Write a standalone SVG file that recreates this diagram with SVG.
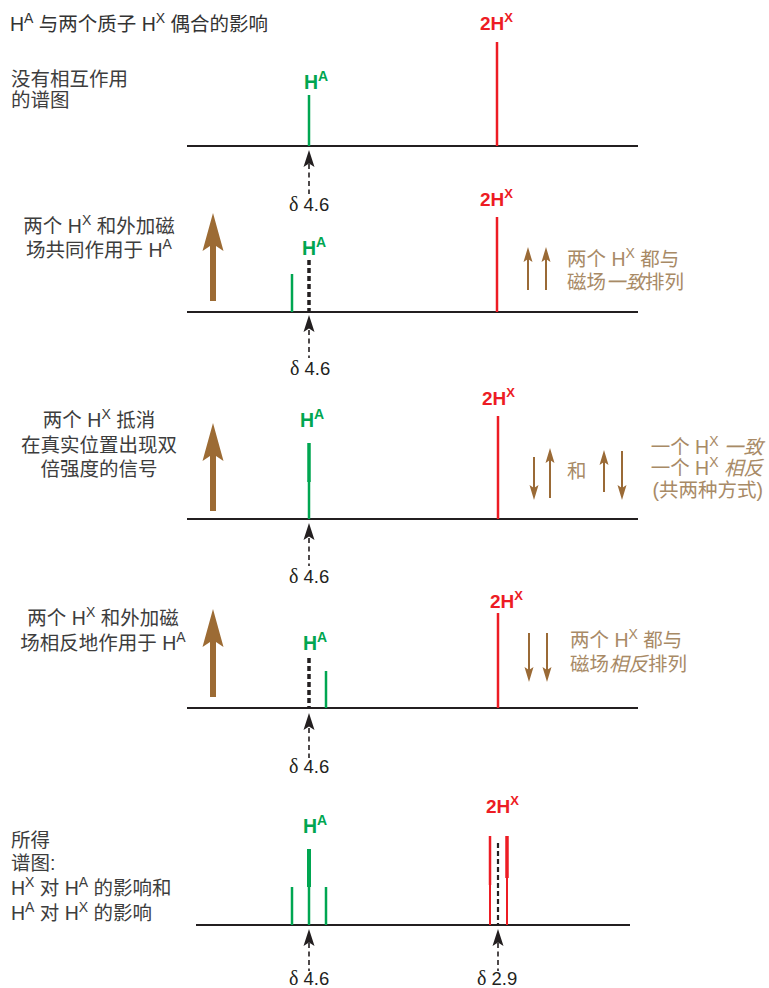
<svg xmlns="http://www.w3.org/2000/svg" width="769" height="988" viewBox="0 0 769 988">
<style>
text{font-family:"Liberation Sans","Noto Sans CJK SC",sans-serif}
.lbl{font-size:19.5px;fill:#3d3d3d}
.br{font-size:19.5px;fill:#a88a66}
.it{font-style:italic}
.ha{font-size:19.5px;font-weight:bold;fill:#00a651}
.hx{font-size:19px;font-weight:bold;fill:#ed1c24}
.d{font-size:18.5px;fill:#231f20}
.dl{font-family:"Liberation Serif",serif;font-size:20px}
.base{stroke:#231f20;stroke-width:2;fill:none}
.g{stroke:#00a651;stroke-width:2.5;fill:none}
.gt{stroke:#00a651;stroke-width:4;fill:none}
.r{stroke:#ed1c24;stroke-width:2.5;fill:none}
.rt{stroke:#ed1c24;stroke-width:3.5;fill:none}
.dk{stroke:#231f20;stroke-width:3.5;stroke-dasharray:5 3;fill:none}
.ds{stroke:#231f20;stroke-width:1.6;stroke-dasharray:5 3.5;fill:none}
.ah{fill:#231f20}
.big{fill:#9c6b34}
.sm{stroke:#9a6a36;stroke-width:2;fill:none}
.smh{fill:#9a6a36}
</style>
<defs>
<polygon id="tipUp" class="ah" points="0,0 5.5,17 0,13.5 -5.5,17"/>
<polygon id="bigUp" class="big" points="0,0 10.5,38 3,33 3,88 -3,88 -3,33 -10.5,38"/>
<polygon id="smUp" class="smh" points="0,0 4.5,15 0,12 -4.5,15"/>
<polygon id="smDn" class="smh" points="0,0 4.5,-15 0,-12 -4.5,-15"/>
</defs>

<g id="title">
<text class="lbl" x="10" y="31" style="fill:#333">H<tspan font-size="14" dy="-8">A</tspan><tspan dy="8"> 与两个质子 H</tspan><tspan font-size="14" dy="-8">X</tspan><tspan dy="8"> 偶合的影响</tspan></text>
</g>

<!-- Panel 1 -->
<g id="panel1">
<g id="p1-label"><text class="lbl" x="11" y="86">没有相互作用</text><text class="lbl" x="11" y="107">的谱图</text></g>
<g id="p1-baseline"><line class="base" x1="187" y1="146" x2="638" y2="146"/></g>
<g id="p1-HA"><text class="ha" x="304" y="89">H<tspan font-size="14" dy="-8">A</tspan></text><line class="g" x1="309" y1="95" x2="309" y2="146"/></g>
<g id="p1-HX"><text class="hx" x="480" y="30">2H<tspan font-size="13" dy="-8">X</tspan></text><line class="r" x1="497" y1="42" x2="497" y2="146"/></g>
<g id="p1-shift"><text class="d" x="289" y="211"><tspan class="dl">δ</tspan> 4.6</text></g>
</g>

<!-- Panel 2 -->
<g id="panel2">
<g id="p2-label"><text class="lbl" x="99" y="233" text-anchor="middle">两个 H<tspan font-size="14" dy="-8">X</tspan><tspan dy="8"> 和外加磁</tspan></text><text class="lbl" x="99" y="257" text-anchor="middle">场共同作用于 H<tspan font-size="14" dy="-8">A</tspan></text></g>
<g id="p2-field"><use href="#bigUp" x="213" y="213"/></g>
<g id="p2-baseline"><line class="base" x1="187" y1="312" x2="638" y2="312"/></g>
<g id="p2-HA"><text class="ha" x="302" y="255">H<tspan font-size="14" dy="-8">A</tspan></text><line class="dk" x1="309" y1="260" x2="309" y2="312"/><line class="g" x1="292" y1="274" x2="292" y2="312"/></g>
<g id="p2-HX"><text class="hx" x="480" y="206">2H<tspan font-size="13" dy="-8">X</tspan></text><line class="r" x1="497" y1="217" x2="497" y2="312"/></g>
<g id="p2-spins"><line class="sm" x1="528" y1="257" x2="528" y2="290"/><use href="#smUp" x="528" y="247"/><line class="sm" x1="546" y1="257" x2="546" y2="290"/><use href="#smUp" x="546" y="247"/></g>
<g id="p2-note"><text class="br" x="567" y="266">两个 H<tspan font-size="14" dy="-8">X</tspan><tspan dy="8"> 都与</tspan></text><text class="br" x="567" y="289">磁场<tspan class="it">一致</tspan>排列</text></g>
<g id="p2-shift"><text class="d" x="290" y="375"><tspan class="dl">δ</tspan> 4.6</text></g>
</g>

<!-- Panel 3 -->
<g id="panel3">
<g id="p3-label"><text class="lbl" x="99" y="427" text-anchor="middle">两个 H<tspan font-size="14" dy="-8">X</tspan><tspan dy="8"> 抵消</tspan></text><text class="lbl" x="99" y="452" text-anchor="middle">在真实位置出现双</text><text class="lbl" x="99" y="476" text-anchor="middle">倍强度的信号</text></g>
<g id="p3-field"><use href="#bigUp" x="213" y="423"/></g>
<g id="p3-baseline"><line class="base" x1="187" y1="519" x2="638" y2="519"/></g>
<g id="p3-HA"><text class="ha" x="300" y="427">H<tspan font-size="14" dy="-8">A</tspan></text><line class="g" x1="309" y1="480" x2="309" y2="519"/><line class="g" x1="309" y1="443" x2="309" y2="482" style="stroke-width:3.5"/></g>
<g id="p3-HX"><text class="hx" x="482" y="405">2H<tspan font-size="13" dy="-8">X</tspan></text><line class="r" x1="498" y1="416" x2="498" y2="519"/></g>
<g id="p3-spins">
<line class="sm" x1="534" y1="457" x2="534" y2="490"/><use href="#smDn" x="534" y="500"/>
<line class="sm" x1="550" y1="458" x2="550" y2="498"/><use href="#smUp" x="550" y="448"/>
<line class="sm" x1="604" y1="460" x2="604" y2="492"/><use href="#smUp" x="604" y="450"/>
<line class="sm" x1="622" y1="451" x2="622" y2="490"/><use href="#smDn" x="622" y="500"/>
</g>
<g id="p3-and"><text class="br" x="567" y="478">和</text></g>
<g id="p3-note"><text class="br" x="763" y="454" text-anchor="end">一个 H<tspan font-size="14" dy="-8">X</tspan><tspan dy="8"> </tspan><tspan class="it">一致</tspan></text><text class="br" x="763" y="475" text-anchor="end">一个 H<tspan font-size="14" dy="-8">X</tspan><tspan dy="8"> </tspan><tspan class="it">相反</tspan></text><text class="br" x="763" y="497" text-anchor="end">(共两种方式)</text></g>
<g id="p3-shift"><text class="d" x="289" y="583"><tspan class="dl">δ</tspan> 4.6</text></g>
</g>

<!-- Panel 4 -->
<g id="panel4">
<g id="p4-label"><text class="lbl" x="103" y="625" text-anchor="middle">两个 H<tspan font-size="14" dy="-8">X</tspan><tspan dy="8"> 和外加磁</tspan></text><text class="lbl" x="103" y="650" text-anchor="middle">场相反地作用于 H<tspan font-size="14" dy="-8">A</tspan></text></g>
<g id="p4-field"><use href="#bigUp" x="213" y="609"/></g>
<g id="p4-baseline"><line class="base" x1="187" y1="708" x2="638" y2="708"/></g>
<g id="p4-HA"><text class="ha" x="303" y="650">H<tspan font-size="14" dy="-8">A</tspan></text><line class="dk" x1="309" y1="658" x2="309" y2="708"/><line class="g" x1="326" y1="671" x2="326" y2="708"/></g>
<g id="p4-HX"><text class="hx" x="490" y="608">2H<tspan font-size="13" dy="-8">X</tspan></text><line class="r" x1="498" y1="613" x2="498" y2="708"/></g>
<g id="p4-spins"><line class="sm" x1="529" y1="633" x2="529" y2="672"/><use href="#smDn" x="529" y="682"/><line class="sm" x1="547" y1="633" x2="547" y2="672"/><use href="#smDn" x="547" y="682"/></g>
<g id="p4-note"><text class="br" x="570" y="647">两个 H<tspan font-size="14" dy="-8">X</tspan><tspan dy="8"> 都与</tspan></text><text class="br" x="570" y="671">磁场<tspan class="it">相反</tspan>排列</text></g>
<g id="p4-shift"><text class="d" x="289" y="773"><tspan class="dl">δ</tspan> 4.6</text></g>
</g>

<!-- Panel 5 -->
<g id="panel5">
<g id="p5-label"><text class="lbl" x="11" y="847">所得</text><text class="lbl" x="11" y="870">谱图:</text><text class="lbl" x="11" y="895">H<tspan font-size="14" dy="-8">X</tspan><tspan dy="8"> 对 H</tspan><tspan font-size="14" dy="-8">A</tspan><tspan dy="8"> 的影响和</tspan></text><text class="lbl" x="11" y="920">H<tspan font-size="14" dy="-8">A</tspan><tspan dy="8"> 对 H</tspan><tspan font-size="14" dy="-8">X</tspan><tspan dy="8"> 的影响</tspan></text></g>
<g id="p5-baseline"><line class="base" x1="196" y1="925" x2="630" y2="925"/></g>
<g id="p5-HA"><text class="ha" x="303" y="833">H<tspan font-size="14" dy="-8">A</tspan></text>
<line class="g" x1="292" y1="887" x2="292" y2="925"/><line class="g" x1="326" y1="887" x2="326" y2="925"/>
<line class="g" x1="309" y1="885" x2="309" y2="925"/><line class="gt" x1="309" y1="849" x2="309" y2="887"/></g>
<g id="p5-HX"><text class="hx" x="486" y="813">2H<tspan font-size="13" dy="-8">X</tspan></text>
<line class="r" x1="490" y1="883" x2="490" y2="925" style="stroke-width:2"/><line class="r" x1="490" y1="836" x2="490" y2="885"/>
<line class="r" x1="507" y1="876" x2="507" y2="925" style="stroke-width:2"/><line class="rt" x1="507" y1="836" x2="507" y2="878"/>
<line class="dk" x1="498" y1="843" x2="498" y2="925" style="stroke-width:2.2"/></g>
<g id="p5-shiftA"><text class="d" x="289" y="985"><tspan class="dl">δ</tspan> 4.6</text></g>
<g id="p5-shiftX"><text class="d" x="477" y="985"><tspan class="dl">δ</tspan> 2.9</text></g>
</g>

<!-- connectors: chemical shift pointer arrows -->
<g id="connectors">
<line class="ds" x1="309" y1="164" x2="309" y2="194"/><use href="#tipUp" x="309" y="150"/>
<line class="ds" x1="309" y1="330" x2="309" y2="358"/><use href="#tipUp" x="309" y="315"/>
<line class="ds" x1="309" y1="538" x2="309" y2="566"/><use href="#tipUp" x="309" y="523"/>
<line class="ds" x1="309" y1="728" x2="309" y2="758"/><use href="#tipUp" x="309" y="713"/>
<line class="ds" x1="309" y1="943" x2="309" y2="971"/><use href="#tipUp" x="309" y="929"/>
<line class="ds" x1="498" y1="943" x2="498" y2="971"/><use href="#tipUp" x="498" y="929"/>
</g>
</svg>
